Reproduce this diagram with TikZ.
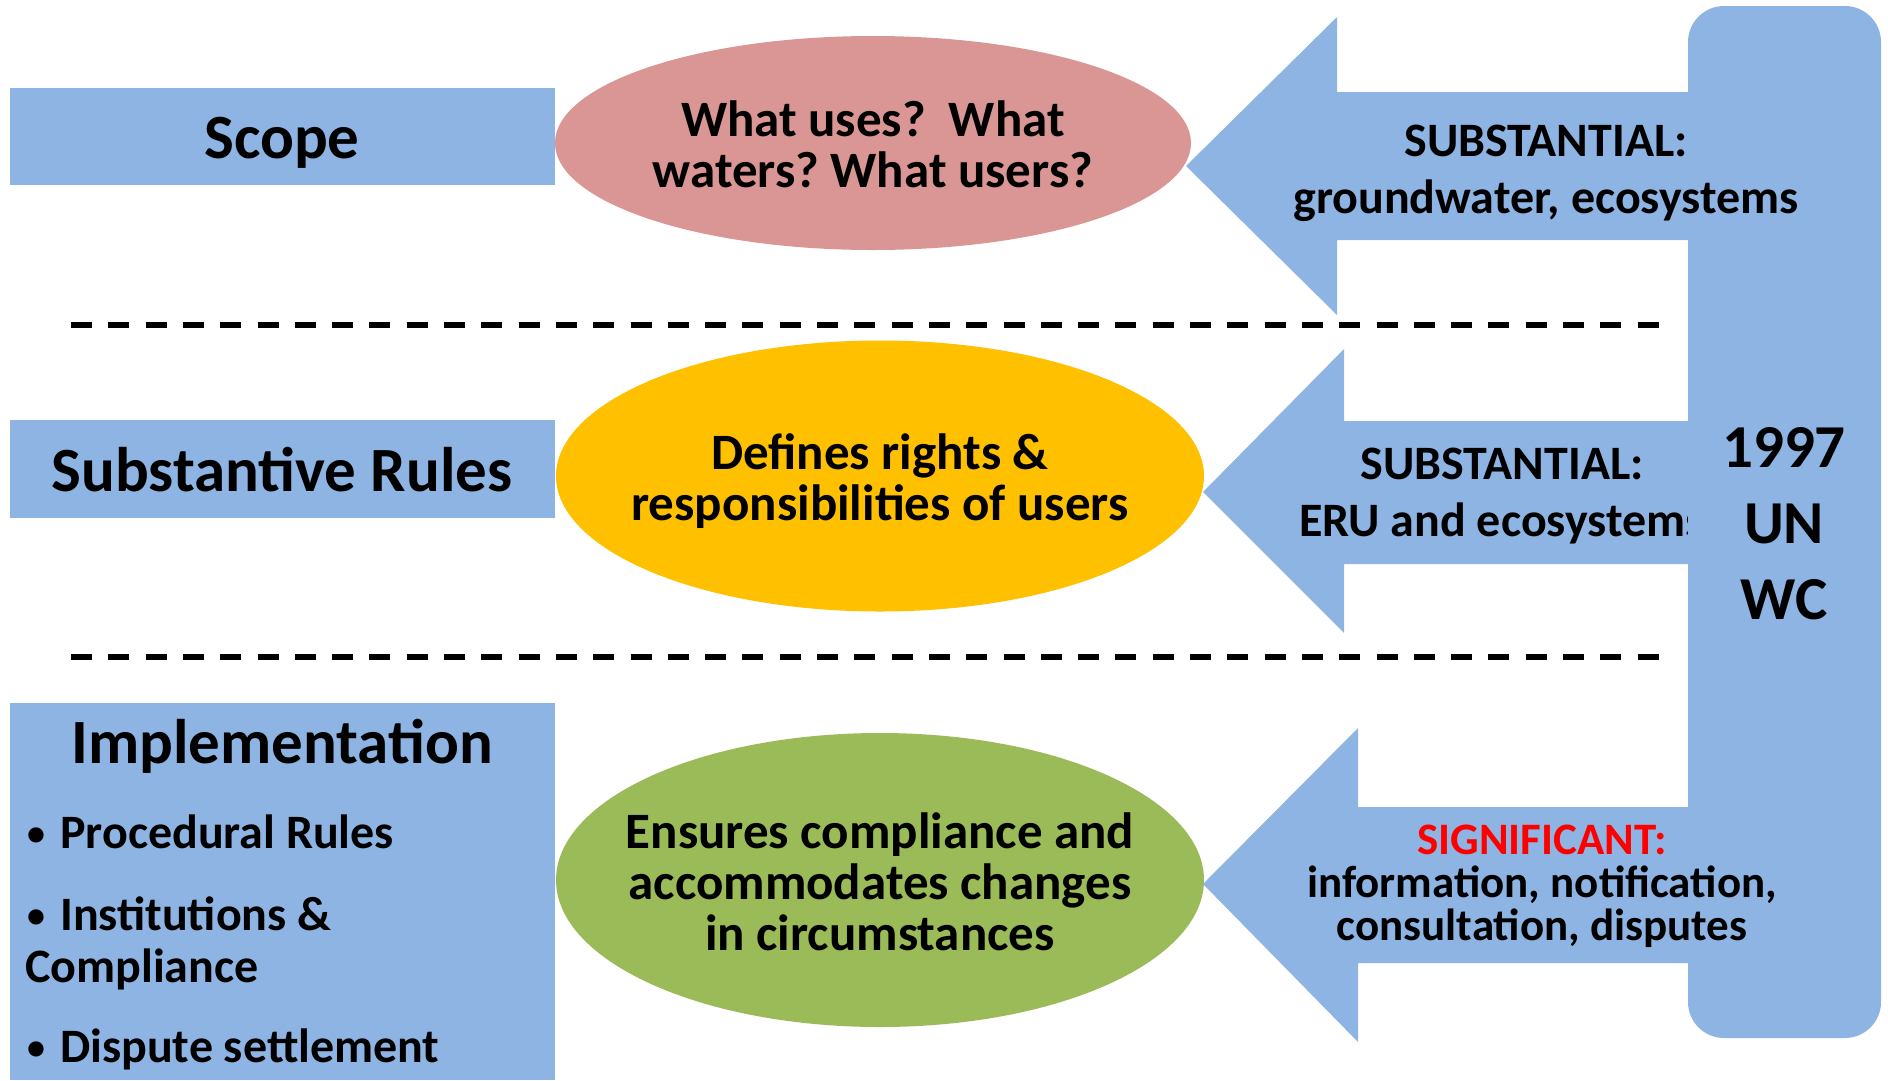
\documentclass[tikz,border=0pt]{standalone}
\usepackage{fontspec}
\setmainfont{Carlito}
\usetikzlibrary{shapes.geometric}
\definecolor{boxblue}{HTML}{8EB4E3}
\definecolor{ovalpink}{HTML}{D99694}
\definecolor{ovalyellow}{HTML}{FFC000}
\definecolor{ovalgreen}{HTML}{9BBB59}
\definecolor{alertred}{HTML}{FF0000}
\frenchspacing
% small round bullet followed by a fixed gap
\newcommand\bulletmark{\makebox[33pt][l]{\fontsize{36}{36}\selectfont\raisebox{3pt}{•}}}

\begin{document}
\begin{tikzpicture}[x=1pt,y=-1pt,
  panel/.style={fill=boxblue, draw=none, inner sep=0pt, minimum width=545pt},
  oval/.style={ellipse, draw=none, inner sep=0pt},
  divider/.style={line width=5.3pt, dash pattern=on 21pt off 16.3pt},
  headline/.style={font=\fontsize{63}{63}\selectfont\bfseries, anchor=base, inner sep=0pt},
  bullet/.style={font=\fontsize{48}{48}\selectfont\bfseries, anchor=base west, inner sep=0pt},
  ovaltext/.style={font=\fontsize{51}{51}\selectfont\bfseries, align=center, inner sep=0pt},
  arrowtext/.style={font=\fontsize{48}{57}\selectfont\bfseries, align=center, inner sep=0pt},
  notetext/.style={font=\fontsize{45}{43}\selectfont\bfseries, align=center, inner sep=0pt},
  bartext/.style={font=\fontsize{61}{76}\selectfont\bfseries, align=center, inner sep=0pt}]

\useasboundingbox (0,0) rectangle (1888,1080);

% left-hand category panels
\node[panel, minimum height=97pt]  (scope) at (282.5,136.5) {};
\node[panel, minimum height=98pt]  (rules) at (282.5,469) {};
\node[panel, minimum height=377pt] (impl)  at (282.5,891.5) {};

% section dividers
\coordinate (d1a) at (71,325);  \coordinate (d1b) at (1659,325);
\coordinate (d2a) at (71,657);  \coordinate (d2b) at (1659,657);
\draw[divider] (d1a) -- (d1b);
\draw[divider] (d2a) -- (d2b);

% central ovals
\node[oval, fill=ovalpink,   minimum width=636pt, minimum height=214pt] (o1) at (873,143) {};
\node[oval, fill=ovalyellow, minimum width=648pt, minimum height=271pt] (o2) at (880,476) {};
\node[oval, fill=ovalgreen,  minimum width=648pt, minimum height=294pt] (o3) at (880,880) {};

% block arrows pointing from the convention bar to the ovals
\fill[boxblue] (1186,166) -- (1337,17) -- (1337,92) -- (1700,92) -- (1700,240)
  -- (1337,240) -- (1337,315) -- cycle;
\fill[boxblue] (1203,492) -- (1344,349) -- (1344,421) -- (1700,421) -- (1700,564)
  -- (1344,564) -- (1344,633) -- cycle;
\fill[boxblue] (1203,884) -- (1358,728) -- (1358,807) -- (1700,807) -- (1700,963)
  -- (1358,963) -- (1358,1042) -- cycle;

% middle arrow text runs under the bar
\node[arrowtext] (a2) at (1502,496) {SUBSTANTIAL:\\ERU and ecosystems};

% convention bar
\node[fill=boxblue, rounded corners=36pt, minimum width=193pt, minimum height=1032pt,
  inner sep=0pt] (bar) at (1784.5,522) {};

% panel texts
\node[headline] (scopetxt) at (282,158) {Scope};
\node[headline] (rulestxt) at (282,491) {Substantive Rules};
\node[headline] (impltxt)  at (282,763) {Implementation};
\node[bullet] (b1) at (27,848)  {\bulletmark Procedural Rules};
\node[bullet] (b2) at (27,930)  {\bulletmark Institutions \&};
\node[bullet] (b2b) at (25,982) {Compliance};
\node[bullet] (b3) at (27,1062) {\bulletmark Dispute settlement};

% oval texts
\node[ovaltext] (o1txt) at ([yshift=-1pt]o1.center) {What uses?\ \ What\\waters? What users?};
\node[ovaltext] (o2txt) at ([yshift=-5pt]o2.center) {Defines rights \&\\responsibilities of users};
\node[ovaltext] (o3txt) at ([yshift=-2pt]o3.center) {Ensures compliance and\\accommodates changes\\in circumstances};

% arrow texts drawn over the bar
\node[arrowtext] (a1) at (1546,173) {SUBSTANTIAL:\\groundwater, ecosystems};
\node[notetext] (a3) at (1542,886) {\textcolor{alertred}{SIGNIFICANT:}\\information, notification,\\consultation, disputes};

% bar label
\node[bartext] (bartxt) at (1784,524) {1997\\UN\\WC};

\end{tikzpicture}
\end{document}
